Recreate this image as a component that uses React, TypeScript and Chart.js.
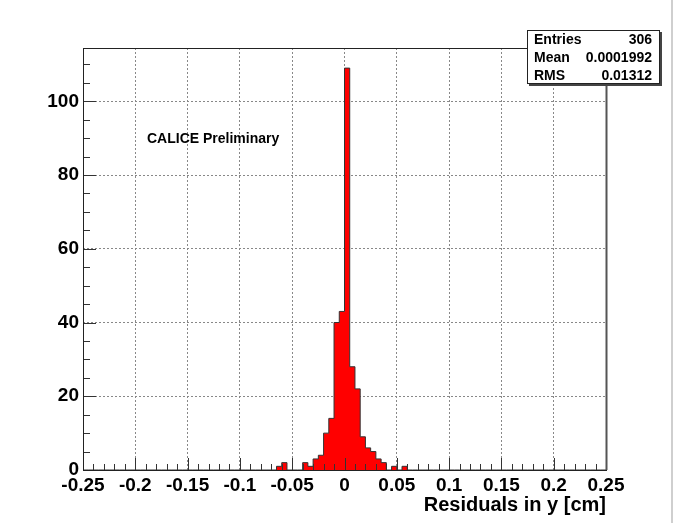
import React, { useEffect, useRef } from "react";
import { Chart, registerables } from "chart.js";

Chart.register(...registerables);

// Histogram: 100 bins from -0.25 to 0.25 (bin width 0.005)
const X_MIN = -0.25;
const X_MAX = 0.25;
const counts: number[] = [
  0, 0, 0, 0, 0, 0, 0, 0, 0, 0,
  0, 0, 0, 0, 0, 0, 0, 0, 0, 0,
  0, 0, 0, 0, 0, 0, 0, 0, 0, 0,
  0, 0, 0, 0, 0, 0, 0, 1, 2, 0,
  0, 0, 2, 1, 3, 4, 10, 14, 40, 43,
  109, 28, 22, 9, 6, 5, 3, 2, 0, 1,
  0, 1, 0, 0, 0, 0, 0, 0, 0, 0,
  0, 0, 0, 0, 0, 0, 0, 0, 0, 0,
  0, 0, 0, 0, 0, 0, 0, 0, 0, 0,
  0, 0, 0, 0, 0, 0, 0, 0, 0, 0,
];
const Y_MAX = 114.45;

const xMajorTicks = [-0.25, -0.2, -0.15, -0.1, -0.05, 0, 0.05, 0.1, 0.15, 0.2, 0.25];
const yMajorTicks = [0, 20, 40, 60, 80, 100];

const xTitle = "Residuals in y [cm]";
const annotationText = "CALICE Preliminary";
const statLabels = ["Entries", "Mean", "RMS"];
const statValues = ["306", "0.0001992", "0.01312"];

const FONT = '"Liberation Sans", Arial, Helvetica, sans-serif';

function fmt(v: number): string {
  return String(Number(v.toFixed(3)));
}

export default function App() {
  const ref = useRef<HTMLCanvasElement | null>(null);

  useEffect(() => {
    document.body.style.margin = "0";
    const canvas = ref.current!;
    const nb = counts.length;
    const bw = (X_MAX - X_MIN) / nb;
    const pts = counts.map((c, i) => ({ x: X_MIN + i * bw, y: c }));
    pts.push({ x: X_MAX, y: 0 });

    const overlay = {
      id: "rootStyle",
      afterDraw(chart: any) {
        const { ctx, chartArea: a, scales } = chart;
        const xs = scales.x;
        const ys = scales.y;
        ctx.save();
        // inner ticks
        ctx.strokeStyle = "#333";
        ctx.lineWidth = 1;
        ctx.beginPath();
        for (let k = -25; k <= 25; k++) {
          const px = Math.round(xs.getPixelForValue(k / 100)) + 0.5;
          const len = k % 5 === 0 ? 12 : 6;
          ctx.moveTo(px, a.bottom);
          ctx.lineTo(px, a.bottom - len);
        }
        for (let k = 0; k * 5 <= Y_MAX; k++) {
          const py = Math.round(ys.getPixelForValue(k * 5)) + 0.5;
          const len = k % 4 === 0 ? 13 : 7;
          ctx.moveTo(a.left, py);
          ctx.lineTo(a.left + len, py);
        }
        ctx.stroke();
        // frame
        ctx.strokeStyle = "#222";
        ctx.lineWidth = 1;
        ctx.strokeRect(Math.round(a.left) + 0.5, Math.round(a.top) + 0.5,
          Math.round(a.right - a.left), Math.round(a.bottom - a.top));
        ctx.strokeStyle = "#555";
        ctx.lineWidth = 2;
        ctx.beginPath();
        ctx.moveTo(Math.round(a.right) + 0.5, a.top);
        ctx.lineTo(Math.round(a.right) + 0.5, a.bottom);
        ctx.stroke();

        // stats box
        const bx = 527, by = 30, bwid = 133, bh = 54;
        ctx.fillStyle = "#444";
        ctx.fillRect(bx + 2, by + 2, bwid, bh);
        ctx.fillStyle = "#fff";
        ctx.fillRect(bx, by, bwid, bh);
        ctx.strokeStyle = "#222";
        ctx.lineWidth = 1;
        ctx.strokeRect(bx + 0.5, by + 0.5, bwid - 1, bh - 1);
        ctx.fillStyle = "#000";
        ctx.font = `bold 14px ${FONT}`;
        ctx.textBaseline = "middle";
        statLabels.forEach((l, i) => {
          const yy = by + 10 + i * 18;
          ctx.textAlign = "left";
          ctx.fillText(l, bx + 7, yy);
          ctx.textAlign = "right";
          ctx.fillText(statValues[i], bx + bwid - 8, yy);
        });

        // annotation
        ctx.textAlign = "left";
        ctx.font = `bold 14px ${FONT}`;
        ctx.fillText(annotationText, 147, 139);

        // canvas edge line
        ctx.fillStyle = "#cfcfcf";
        ctx.fillRect(671, 0, 2, 523);
        ctx.restore();
      },
    };

    const chart = new Chart(canvas, {
      type: "line",
      data: {
        datasets: [
          {
            data: pts,
            stepped: "before",
            fill: "origin",
            backgroundColor: "#ff0000",
            borderColor: "#333",
            borderWidth: 1,
            pointRadius: 0,
          },
        ],
      },
      options: {
        animation: false,
        responsive: false,
        events: [],
        layout: { padding: { top: 48, right: 70, left: 0, bottom: 0 } },
        plugins: { legend: { display: false }, tooltip: { enabled: false } },
        scales: {
          x: {
            type: "linear",
            min: X_MIN,
            max: X_MAX,
            afterBuildTicks: (s: any) => {
              s.ticks = xMajorTicks.map((v) => ({ value: v }));
            },
            afterFit: (s: any) => {
              s.height = 53;
            },
            ticks: {
              callback: (v: any) => fmt(Number(v)),
              font: { family: FONT, size: 19, weight: "bold" },
              color: "#000",
              padding: 4,
              maxRotation: 0,
              autoSkip: false,
            },
            grid: {
              drawTicks: false,
              lineWidth: 1,
              color: (c: any) =>
                c.tick && (c.tick.value <= X_MIN + 1e-9 || c.tick.value >= X_MAX - 1e-9)
                  ? "rgba(0,0,0,0)"
                  : "#888",
            },
            border: { display: false, dash: [2, 2] },
            title: {
              display: true,
              text: xTitle,
              align: "end",
              color: "#000",
              font: { family: FONT, size: 20, weight: "bold" },
              padding: { top: 0, bottom: 6 },
            },
          },
          y: {
            type: "linear",
            min: 0,
            max: Y_MAX,
            afterBuildTicks: (s: any) => {
              s.ticks = yMajorTicks.map((v) => ({ value: v }));
            },
            afterFit: (s: any) => {
              s.width = 83;
            },
            ticks: {
              font: { family: FONT, size: 19, weight: "bold" },
              color: "#000",
              padding: 4,
            },
            grid: {
              drawTicks: false,
              lineWidth: 1,
              color: (c: any) => (c.tick && c.tick.value === 0 ? "rgba(0,0,0,0)" : "#888"),
            },
            border: { display: false, dash: [2, 2] },
          },
        },
      } as any,
      plugins: [overlay],
    });
    return () => chart.destroy();
  }, []);

  return (
    <div style={{ position: "fixed", left: 0, top: 0, width: 676, height: 523, background: "#fff" }}>
      <canvas ref={ref} width={676} height={523} style={{ display: "block" }} />
    </div>
  );
}
